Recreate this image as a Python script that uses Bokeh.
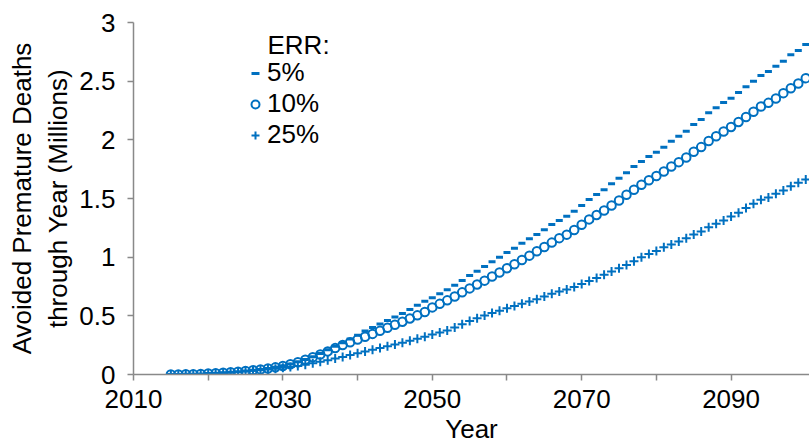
from bokeh.plotting import figure
from bokeh.models import (FixedTicker, CustomJSTickFormatter, Legend, LegendItem,
                          Label, Range1d)
from bokeh.embed import file_html
from bokeh.resources import INLINE

# Cumulative avoided premature deaths (millions), by excess relative risk (ERR)
years = list(range(2015, 2101))

err_5 = [
    0.000, 0.001, 0.002, 0.003, 0.005, 0.008, 0.011, 0.015, 0.019, 0.024,   # 2015-2024
    0.030, 0.036, 0.043, 0.052, 0.062, 0.075, 0.090, 0.108, 0.128, 0.152,   # 2025-2034
    0.180, 0.210, 0.240, 0.270, 0.302, 0.335, 0.370, 0.400, 0.430, 0.460,   # 2035-2044
    0.490, 0.520, 0.555, 0.590, 0.625, 0.655, 0.688, 0.722, 0.761, 0.801,   # 2045-2054
    0.844, 0.881, 0.920, 0.960, 1.000, 1.040, 1.077, 1.119, 1.157, 1.193,   # 2055-2064
    1.233, 1.278, 1.313, 1.349, 1.392, 1.440, 1.492, 1.534, 1.574, 1.625,   # 2065-2074
    1.672, 1.720, 1.773, 1.815, 1.858, 1.895, 1.937, 1.988, 2.031, 2.074,   # 2075-2084
    2.131, 2.173, 2.230, 2.273, 2.318, 2.355, 2.403, 2.452, 2.500, 2.548,   # 2085-2094
    2.582, 2.628, 2.670, 2.725, 2.761, 2.813,                               # 2095-2100
]

err_10 = [
    0.000, 0.001, 0.002, 0.003, 0.005, 0.008, 0.011, 0.015, 0.019, 0.024,
    0.030, 0.036, 0.043, 0.051, 0.061, 0.073, 0.088, 0.105, 0.125, 0.147,
    0.170, 0.197, 0.225, 0.251, 0.275, 0.298, 0.322, 0.346, 0.372, 0.398,
    0.424, 0.450, 0.477, 0.504, 0.532, 0.572, 0.602, 0.632, 0.665, 0.700,
    0.734, 0.767, 0.800, 0.835, 0.870, 0.905, 0.940, 0.976, 1.013, 1.050,
    1.087, 1.124, 1.162, 1.192, 1.232, 1.276, 1.322, 1.360, 1.398, 1.440,
    1.483, 1.532, 1.574, 1.617, 1.655, 1.692, 1.730, 1.773, 1.810, 1.850,
    1.898, 1.938, 1.990, 2.030, 2.071, 2.110, 2.152, 2.195, 2.240, 2.284,
    2.315, 2.352, 2.398, 2.440, 2.480, 2.525,
]

err_25 = [
    0.000, 0.001, 0.002, 0.003, 0.005, 0.008, 0.011, 0.014, 0.018, 0.022,
    0.027, 0.032, 0.037, 0.043, 0.050, 0.057, 0.064, 0.073, 0.083, 0.095,
    0.108, 0.122, 0.136, 0.150, 0.166, 0.182, 0.197, 0.211, 0.225, 0.240,
    0.255, 0.270, 0.287, 0.305, 0.322, 0.340, 0.357, 0.376, 0.400, 0.428,
    0.455, 0.480, 0.503, 0.524, 0.544, 0.564, 0.584, 0.602, 0.622, 0.642,
    0.665, 0.688, 0.707, 0.724, 0.746, 0.772, 0.797, 0.823, 0.850, 0.878,
    0.906, 0.933, 0.966, 1.000, 1.028, 1.052, 1.085, 1.108, 1.134, 1.162,
    1.193, 1.219, 1.256, 1.284, 1.313, 1.347, 1.378, 1.418, 1.455, 1.489,
    1.508, 1.540, 1.568, 1.605, 1.634, 1.662,
]

series_labels = ["5%", "10%", "25%"]
legend_title = "ERR:"

x_major_ticks = [2010, 2030, 2050, 2070, 2090]
x_minor_ticks = [2020, 2040, 2060, 2080]
y_ticks = [0, 0.5, 1, 1.5, 2, 2.5, 3]

x_title = "Year"
y_title = "Avoided Premature Deaths\nthrough Year (Millions)"

BLUE = "#0070C0"
AXIS_GREY = "#898989"
FONT = "Liberation Sans"

p = figure(width=809, height=446,
           x_range=Range1d(2010, 2100.5), y_range=Range1d(0, 3),
           output_backend="svg", toolbar_location=None,
           min_border_left=133, min_border_right=0,
           min_border_top=22, min_border_bottom=72)
p.outline_line_color = None
p.xgrid.visible = False
p.ygrid.visible = False
p.background_fill_color = "white"
p.border_fill_color = "white"

# series markers: dash, open circle, plus
r5 = p.scatter(years, err_5, marker="dash", size=7,
               line_color=BLUE, line_width=3)
r10 = p.scatter(years, err_10, marker="circle", size=8.5,
                fill_color=None, line_color=BLUE, line_width=2)
r25 = p.scatter(years, err_25, marker="cross", size=9,
                line_color=BLUE, line_width=2)

# axes
for ax in (p.xaxis[0], p.yaxis[0]):
    ax.axis_line_color = AXIS_GREY
    ax.axis_line_width = 1.5
    ax.major_tick_line_color = AXIS_GREY
    ax.major_tick_line_width = 1.5
    ax.major_tick_in = 0
    ax.major_tick_out = 6
    ax.minor_tick_line_color = AXIS_GREY
    ax.minor_tick_line_width = 1.5
    ax.minor_tick_in = 0
    ax.minor_tick_out = 6
    ax.major_label_text_font = FONT
    ax.major_label_text_font_size = "26px"
    ax.major_label_text_color = "black"
    ax.axis_label_text_font = FONT
    ax.axis_label_text_font_size = "26px"
    ax.axis_label_text_font_style = "normal"
    ax.axis_label_text_color = "black"

p.xaxis.ticker = FixedTicker(ticks=x_major_ticks, minor_ticks=x_minor_ticks)
p.xaxis.major_label_standoff = 9
p.xaxis.axis_label = x_title
p.xaxis.axis_label_standoff = 3

p.yaxis.ticker = FixedTicker(ticks=y_ticks, minor_ticks=[])
p.yaxis.formatter = CustomJSTickFormatter(code="return tick.toString();")
p.yaxis.major_label_standoff = 12
p.yaxis.axis_label = y_title
p.yaxis.axis_label_standoff = 3
p.yaxis.axis_label_text_align = "center"

# legend
legend = Legend(
    items=[LegendItem(label=lbl, renderers=[r])
           for lbl, r in zip(series_labels, (r5, r10, r25))],
    location=(112, 224), orientation="vertical",
    glyph_width=20, glyph_height=30, label_height=30, spacing=0,
    padding=0, margin=0, label_standoff=2,
    label_text_font=FONT, label_text_font_size="26px", label_text_color="black",
    border_line_color=None, background_fill_alpha=0,
)
p.add_layout(legend)
p.add_layout(Label(x=134, y=330, x_units="screen", y_units="screen",
                   text=legend_title, text_align="left", text_baseline="middle",
                   text_font=FONT, text_font_size="26px", text_color="black"))

open("out.html", "w").write(file_html(p, INLINE))
